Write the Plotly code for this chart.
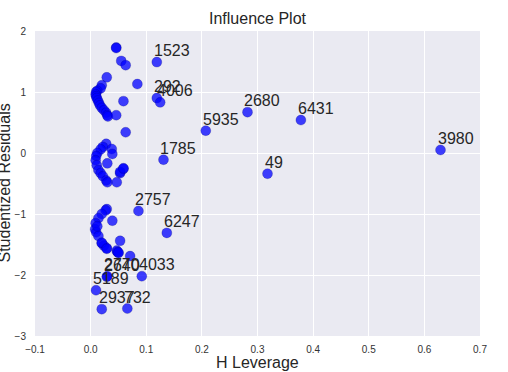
import plotly.graph_objects as go

# Unlabelled observations: H leverage and studentized residuals
leverage = [
    0.046, 0.046, 0.055, 0.063, 0.029, 0.020, 0.018, 0.084, 0.012, 0.0097, 0.009, 0.010,
    0.011, 0.013, 0.015, 0.017, 0.020, 0.024, 0.028, 0.030, 0.031, 0.046, 0.059, 0.063,
    0.028, 0.022, 0.018, 0.012, 0.010, 0.009, 0.011, 0.014, 0.018, 0.022, 0.028, 0.030,
    0.038, 0.039, 0.030, 0.047, 0.053, 0.059, 0.053, 0.059,
    0.029, 0.027, 0.020, 0.014, 0.009, 0.008, 0.010, 0.014, 0.020, 0.024, 0.029, 0.047,
    0.050, 0.048, 0.039, 0.053, 0.071, 0.012, 0.020, 0.029, 0.050,
]
residuals = [
    1.73, 1.72, 1.51, 1.44, 1.24, 1.11, 1.06, 1.13, 1.02, 1.00, 0.96, 0.93,
    0.90, 0.86, 0.82, 0.78, 0.74, 0.70, 0.66, 0.62, 0.60, 0.62, 0.85, 0.34,
    0.15, 0.10, 0.06, 0.00, -0.05, -0.12, -0.20, -0.28, -0.33, -0.38, -0.45, -0.48,
    0.066, -0.016, -0.17, -0.48, -0.33, -0.26, -0.31, -0.25,
    -0.92, -0.94, -1.00, -1.07, -1.15, -1.25, -1.30, -1.36, -1.48, -1.52, -1.56, -1.60,
    -1.64, -1.62, -1.11, -1.44, -1.69, -1.20, -1.47, -1.57, -1.63,
]

# Labelled observations
label_ids = ["1523", "292", "4006", "5935", "2680", "6431", "3980", "1785", "49",
             "2757", "6247", "2640", "2770", "4033", "5189", "2937", "732"]
label_leverage = [0.119, 0.119, 0.125, 0.207, 0.282, 0.378, 0.629, 0.131, 0.318,
                  0.086, 0.137, 0.029, 0.030, 0.092, 0.0097, 0.020, 0.066]
label_residuals = [1.49, 0.90, 0.83, 0.366, 0.67, 0.54, 0.05, -0.11, -0.34,
                   -0.95, -1.31, -2.03, -2.02, -2.02, -2.25, -2.56, -2.55]

x_ticks = [-0.1, 0.0, 0.1, 0.2, 0.3, 0.4, 0.5, 0.6, 0.7]
x_tick_text = ["\u22120.1", "0.0", "0.1", "0.2", "0.3", "0.4", "0.5", "0.6", "0.7"]
y_ticks = [-3, -2, -1, 0, 1, 2]
y_tick_text = ["\u22123", "\u22122", "\u22121", "0", "1", "2"]

FONT = "Liberation Sans, Arial, sans-serif"
marker = dict(color="rgba(0,0,255,0.75)", size=10,
              line=dict(color="rgba(0,0,90,0.35)", width=0.6))

fig = go.Figure()
fig.add_trace(go.Scatter(x=leverage + label_leverage, y=residuals + label_residuals,
                         mode="markers", marker=marker, showlegend=False,
                         hoverinfo="skip"))

for lid, lx, ly in zip(label_ids, label_leverage, label_residuals):
    fig.add_annotation(x=lx, y=ly, text=lid, showarrow=False,
                       xanchor="left", yanchor="bottom", xshift=-5, yshift=1,
                       font=dict(family=FONT, size=16, color="#262626"))

fig.add_annotation(xref="paper", yref="paper", x=0, y=0.5, xshift=-31,
                   text="Studentized Residuals", textangle=-90, showarrow=False,
                   xanchor="center", yanchor="middle",
                   font=dict(family=FONT, size=16, color="#262626"))
fig.add_annotation(xref="paper", yref="paper", x=0.5, y=0, yshift=-26.5,
                   text="H Leverage", showarrow=False,
                   xanchor="center", yanchor="middle",
                   font=dict(family=FONT, size=16, color="#262626"))

fig.update_layout(
    width=508, height=372,
    margin=dict(l=35, r=28, t=31, b=36),
    paper_bgcolor="white", plot_bgcolor="#EAEAF2",
    title=dict(text="Influence Plot", x=0.5, xref="paper", xanchor="center",
               y=1 - 18 / 372, yref="container", yanchor="middle",
               font=dict(family=FONT, size=16, color="#262626")),
    xaxis=dict(range=[-0.1, 0.7], tickvals=x_ticks, ticktext=x_tick_text,
               showgrid=True, gridcolor="white", gridwidth=1, zeroline=False,
               ticks="outside", ticklen=4, tickcolor="white", showline=False,
               tickfont=dict(family=FONT, size=10, color="#333333"),
               automargin=False),
    yaxis=dict(range=[-3, 2], tickvals=y_ticks, ticktext=y_tick_text,
               showgrid=True, gridcolor="white", gridwidth=1, zeroline=False,
               ticks="outside", ticklen=6, tickcolor="white", showline=False,
               tickfont=dict(family=FONT, size=10, color="#333333"),
               automargin=False),
)

fig.write_html("out.html", config={"displayModeBar": False},
               post_script="document.body.style.margin='0px';document.body.style.overflow='hidden';")
